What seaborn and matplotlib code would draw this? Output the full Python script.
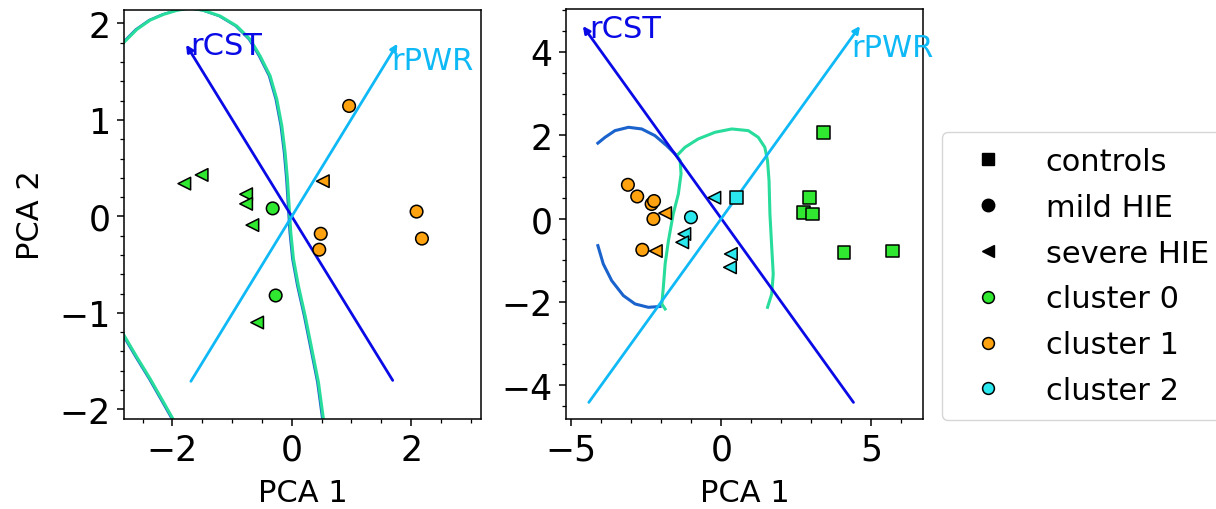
import numpy as np
import pandas as pd
import seaborn as sns
import matplotlib.pyplot as plt
from matplotlib.lines import Line2D
from matplotlib.ticker import MultipleLocator
from matplotlib.transforms import offset_copy

# ---- left panel: HIE infants only ----
hie_x = [0.96, 2.09, 2.18, 0.485, 0.46, 0.52,
         -0.32, -0.27, -1.80, -1.51, -0.765, -0.765, -0.66, -0.58]
hie_y = [1.145, 0.05, -0.23, -0.18, -0.345, 0.365,
         0.083, -0.82, 0.34, 0.43, 0.23, 0.13, -0.09, -1.10]
hie_group = ['mild HIE'] * 5 + ['severe HIE'] + ['mild HIE'] * 2 + ['severe HIE'] * 6
hie_cluster = ['cluster 1'] * 6 + ['cluster 0'] * 8

# ---- right panel: all infants ----
all_x = [3.41, 2.93, 2.73, 3.03, 4.08, 5.70, 0.51,
         -3.11, -2.80, -2.32, -2.24, -2.26, -2.63, -1.87, -2.18,
         -1.01, -1.23, -1.30, -0.23, 0.32, 0.29]
all_y = [2.06, 0.51, 0.15, 0.11, -0.81, -0.78, 0.51,
         0.81, 0.53, 0.35, 0.42, -0.01, -0.75, 0.13, -0.78,
         0.03, -0.37, -0.57, 0.50, -0.85, -1.17]
all_group = (['controls'] * 7 + ['mild HIE'] * 6 + ['severe HIE'] * 2
             + ['mild HIE'] + ['severe HIE'] * 5)
all_cluster = (['cluster 0'] * 6 + ['cluster 2'] + ['cluster 1'] * 8
               + ['cluster 2'] * 6)

# loadings (arrow tips)
load_names = ['rCST', 'rPWR']
hie_load = [(-1.77, 1.78), (1.77, 1.79)]
all_load = [(-4.61, 4.62), (4.62, 4.62)]
hie_label_pos = [(-1.70, 1.68), (1.66, 1.525)]
all_label_pos = [(-4.39, 4.35), (4.32, 3.91)]

# decision boundaries
hie_b1_x = [-2.99, -2.807, -2.594, -2.372, -2.149, -1.925, -1.702, -1.479, -1.2, -0.921,
            -0.698, -0.531, -0.363, -0.251, -0.167, -0.112, -0.073, -0.045, -0.017,
            0.028, 0.11, 0.223, 0.335, 0.446, 0.529, 0.557]
hie_b1_y = [1.70, 1.807, 1.939, 2.035, 2.094, 2.136, 2.16, 2.136, 2.077, 1.973,
            1.835, 1.663, 1.456, 1.214, 0.938, 0.662, 0.386, 0.11, -0.166,
            -0.442, -0.718, -1.029, -1.374, -1.719, -2.098, -2.236]
hie_b2_x = [-2.93, -2.807, -2.594, -2.372, -2.149, -1.992, -1.925]
hie_b2_y = [-1.115, -1.236, -1.46, -1.684, -1.926, -2.098, -2.185]

all_blue1_x = [-4.11, -3.87, -3.54, -3.09, -2.65, -2.21, -1.82, -1.48]
all_blue1_y = [1.81, 1.95, 2.11, 2.19, 2.15, 1.99, 1.75, 1.51]
all_blue2_x = [-4.11, -3.93, -3.65, -3.26, -2.87, -2.43, -2.04]
all_blue2_y = [-0.65, -1.09, -1.49, -1.85, -2.05, -2.13, -2.11]
all_green_x = [-1.87, -1.98, -1.93, -1.87, -1.76, -1.60, -1.43, -1.34, -1.37, -1.48,
               -1.21, -0.77, -0.21, 0.35, 0.90, 1.23, 1.45, 1.54, 1.59, 1.62,
               1.68, 1.73, 1.68, 1.54]
all_green_y = [-2.17, -2.05, -1.65, -1.09, -0.53, 0.11, 0.59, 1.07, 1.39, 1.51,
               1.71, 1.91, 2.07, 2.15, 2.11, 1.95, 1.71, 1.39, 0.91, 0.11,
               -0.69, -1.33, -1.81, -2.13]

palette = {'cluster 0': '#2fe82f', 'cluster 1': '#ffa20f', 'cluster 2': '#2ae8ee'}
markers = {'controls': 's', 'mild HIE': 'o', 'severe HIE': '<'}
load_colors = ['#0a0ae6', '#0fb9f5']
blue_c = '#1a62cc'
green_c = '#28dc9c'

hie = pd.DataFrame({'x': hie_x, 'y': hie_y, 'group': hie_group, 'cluster': hie_cluster})
alldf = pd.DataFrame({'x': all_x, 'y': all_y, 'group': all_group, 'cluster': all_cluster})

fig = plt.figure(figsize=(12.16, 5.10), dpi=100)
ax1 = fig.add_axes([0.102, 0.1765, 0.2936, 0.802])
ax2 = fig.add_axes([0.4655, 0.1765, 0.2936, 0.804])

# boundaries (left panel: two nearly coincident contours)
shifted = offset_copy(ax1.transData, fig=fig, x=-1.2, y=0, units='dots')
ax1.plot(hie_b1_x, hie_b1_y, color=blue_c, lw=1.6, zorder=1, transform=shifted)
ax1.plot(hie_b1_x, hie_b1_y, color=green_c, lw=2.2, zorder=1)
ax1.plot(hie_b2_x, hie_b2_y, color=blue_c, lw=1.6, zorder=1, transform=shifted)
ax1.plot(hie_b2_x, hie_b2_y, color=green_c, lw=2.2, zorder=1)
ax2.plot(all_blue1_x, all_blue1_y, color=blue_c, lw=2.2, zorder=1)
ax2.plot(all_blue2_x, all_blue2_y, color=blue_c, lw=2.2, zorder=1)
ax2.plot(all_green_x, all_green_y, color=green_c, lw=2.2, zorder=1)

# loading arrows
for ax, loads, lpos in [(ax1, hie_load, hie_label_pos), (ax2, all_load, all_label_pos)]:
    for name, (vx, vy), (tx, ty), c in zip(load_names, loads, lpos, load_colors):
        ax.annotate('', xy=(vx, vy), xytext=(-0.955 * vx, -0.955 * vy),
                    arrowprops=dict(arrowstyle='-|>', color=c, lw=2.0,
                                    mutation_scale=10, shrinkA=0, shrinkB=0),
                    zorder=2)
        ax.text(tx, ty, name, color=c, fontsize=22, ha='left', va='baseline', zorder=3)

# points
for ax, df in [(ax1, hie), (ax2, alldf)]:
    sns.scatterplot(data=df, x='x', y='y', hue='cluster', style='group',
                    palette=palette, markers=markers, s=82, edgecolor='black',
                    linewidth=1.1, legend=False, ax=ax, zorder=4)

ax1.set_xlim(-2.81, 3.17)
ax1.set_ylim(-2.10, 2.14)
ax2.set_xlim(-5.17, 6.72)
ax2.set_ylim(-4.81, 5.03)

ax1.xaxis.set_major_locator(MultipleLocator(2))
ax1.xaxis.set_minor_locator(MultipleLocator(0.5))
ax1.yaxis.set_major_locator(MultipleLocator(1))
ax1.yaxis.set_minor_locator(MultipleLocator(0.2))
ax2.xaxis.set_major_locator(MultipleLocator(5))
ax2.xaxis.set_minor_locator(MultipleLocator(1))
ax2.yaxis.set_major_locator(MultipleLocator(2))
ax2.yaxis.set_minor_locator(MultipleLocator(0.5))

for ax in (ax1, ax2):
    ax.tick_params(which='major', labelsize=25, length=4.8, width=1.1, pad=5)
    ax.tick_params(which='minor', length=2.9, width=0.9)
    for sp in ax.spines.values():
        sp.set_linewidth(1.1)
    ax.set_xlabel('PCA 1', fontsize=22, labelpad=8)
    ax.set_ylabel('')
ax1.set_ylabel('PCA 2', fontsize=22, labelpad=10)

handles = [Line2D([], [], marker=markers[g], color='black', linestyle='', markersize=9)
           for g in ['controls', 'mild HIE', 'severe HIE']]
handles += [Line2D([], [], marker='o', markerfacecolor=palette[c], markeredgecolor='black',
                   markeredgewidth=1.1, linestyle='', markersize=8.5)
            for c in ['cluster 0', 'cluster 1', 'cluster 2']]
labels = ['controls', 'mild HIE', 'severe HIE', 'cluster 0', 'cluster 1', 'cluster 2']
fig.legend(handles, labels, loc='upper left', bbox_to_anchor=(941.7 / 1216, 1 - 132.7 / 510),
           borderaxespad=0, borderpad=0.5, fontsize=22, handletextpad=0.9, labelspacing=0.55)

fig.savefig('out.png', dpi=100)
